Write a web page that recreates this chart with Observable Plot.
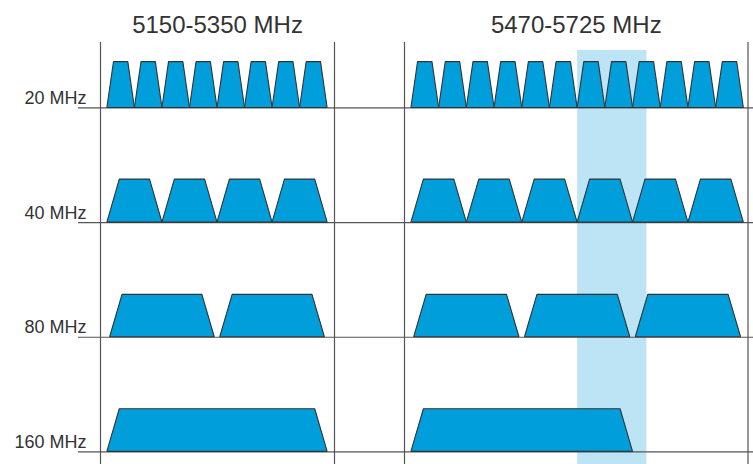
<!DOCTYPE html>
<html>
<head>
<meta charset="utf-8">
<script src="https://cdn.jsdelivr.net/npm/d3@7"></script>
<script src="https://cdn.jsdelivr.net/npm/@observablehq/plot@0.6"></script>
<style>
  html, body { margin: 0; padding: 0; background: #fff; }
</style>
</head>
<body>
<div id="chart"></div>
<script>
// ---- data ----
const bandTitles = ["5150-5350 MHz", "5470-5725 MHz"];
const panelLo = [5165, 5485];            // panel left edge (MHz)
const panelHi = [5335, 5733];            // panel right edge (MHz)
const rowLabels = ["20 MHz", "40 MHz", "80 MHz", "160 MHz"];
const rowWidthMHz = [20, 40, 80, 160];
const ch20 = [36, 40, 44, 48, 52, 56, 60, 64, 100, 104, 108, 112, 116, 120, 124, 128, 132, 136, 140, 144];
const ch40 = [38, 46, 54, 62, 102, 110, 118, 126, 134, 142];
const ch80 = [42, 58, 106, 122, 138];
const ch160 = [50, 114];
const channelSets = [ch20, ch40, ch80, ch160];
const shapeHeight = [0.40, 0.375, 0.37, 0.372];  // trapezoid height (row units)
const shapeSlope = [4.8, 9, 9, 9];               // side inset (MHz)
const shapeGap = [0, 0, 2, 0];                   // bottom gap per side (MHz)
const radarBand = [5610, 5660];                  // highlighted range (MHz)

// ---- derived table ----
const pts = [];
channelSets.forEach((chs, r) => {
  chs.forEach(ch => {
    const c = 5000 + 5 * ch, h = rowWidthMHz[r] / 2;
    const lo = c - h + shapeGap[r], hi = c + h - shapeGap[r];
    const s = shapeSlope[r], top = r - shapeHeight[r];
    const id = r + "-" + ch;
    pts.push({id, row: r, x: lo, y: r});
    pts.push({id, row: r, x: lo + s, y: top});
    pts.push({id, row: r, x: hi - s, y: top});
    pts.push({id, row: r, x: hi, y: r});
  });
});
const panels = bandTitles.map((t, i) => ({title: t, lo: panelLo[i], hi: panelHi[i]}));
const highlight = [{lo: radarBand[0], hi: radarBand[1]}];

const chart = Plot.plot({
  width: 753,
  height: 464,
  marginTop: 42,
  marginBottom: 0,
  marginLeft: 78,
  marginRight: 0,
  style: {fontFamily: "'Liberation Sans', Arial, sans-serif", background: "#fff", overflow: "visible"},
  x: {type: "linear", domain: [panelLo[0], panelHi[0], panelLo[1], panelHi[1]], range: [100, 334, 404, 747.5], axis: null},
  y: {type: "linear", domain: [-0.571, 3.11], range: [42, 464], axis: null},
  marks: [
    Plot.rect(highlight, {x1: "lo", x2: "hi", insetTop: 8, fill: "#bde4f5"}),
    Plot.ruleX([...panelLo, ...panelHi], {stroke: "#555", strokeWidth: 1.2}),
    Plot.ruleY(rowLabels.map((d, i) => i), {stroke: "#555", strokeWidth: 1.2}),
    Plot.area(pts, {x1: "x", y1: "row", y2: "y", z: "id", fill: "#009fdb", stroke: "#333", strokeWidth: 1.1, strokeLinejoin: "miter"}),
    Plot.text(rowLabels, {y: (d, i) => i, text: d => d, frameAnchor: "left", dx: 8, dy: -4, textAnchor: "end", lineAnchor: "bottom", fontSize: 18, fill: "#333"}),
    Plot.text(panels, {x: d => (d.lo + d.hi) / 2, text: "title", frameAnchor: "top", dy: -10, lineAnchor: "bottom", fontSize: 24, fill: "#333"})
  ]
});
document.getElementById("chart").appendChild(chart);
</script>
</body>
</html>
